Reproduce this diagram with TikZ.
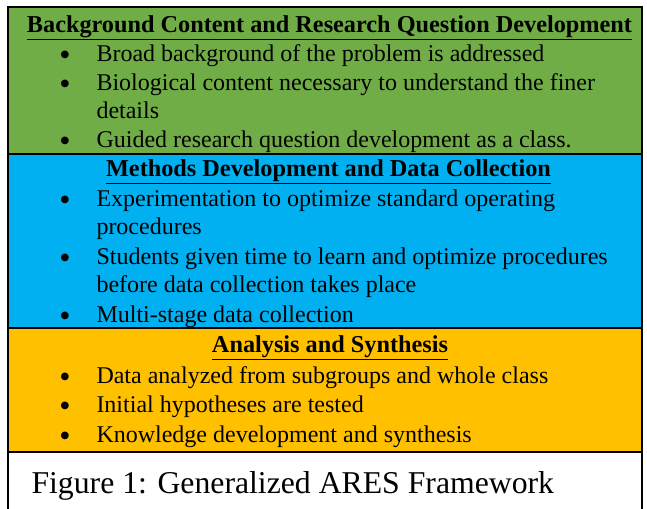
\documentclass[tikz,border=0pt]{standalone}
\usepackage{fontspec}
\setmainfont{Liberation Serif}
\usepackage{tikz}
\definecolor{bandgreen}{RGB}{112, 173, 71}
\definecolor{bandblue}{RGB}{0, 176, 240}
\definecolor{bandorange}{RGB}{255, 192, 0}
\tikzset{every picture/.style={line width=0.75pt}}
\tikzset{
  bandtitle/.style={anchor=base, inner sep=0.75pt, font=\fontsize{18.2}{21}\selectfont\bfseries},
  bulletdot/.style={anchor=base, inner sep=0.75pt, font=\fontsize{24}{21}\selectfont},
  bullettext/.style={anchor=base west, inner sep=0.75pt, align=left, font=\fontsize{18}{21}\selectfont},
}

\begin{document}
\begin{tikzpicture}[x=0.75pt,y=0.75pt,yscale=-1,xscale=1]
\useasboundingbox (0,0) rectangle (647,508);

%Shape: Rectangle [green band]
\draw  [fill=bandgreen, line width=1pt] (8,7) -- (642,7) -- (642,154) -- (8,154) -- cycle ;
%Shape: Rectangle [blue band]
\draw  [fill=bandblue, line width=1pt] (8,154) -- (642,154) -- (642,328) -- (8,328) -- cycle ;
%Shape: Rectangle [orange band]
\draw  [fill=bandorange, line width=1pt] (8,328) -- (642,328) -- (642,452) -- (8,452) -- cycle ;
%Shape: Rectangle [caption box]
\draw  [fill=white, line width=1pt] (8,452) -- (642,452) -- (642,514) -- (8,514) -- cycle ;

% Text Node
\node (bgtitle) at (329.5,32) [bandtitle] {\underline{Background Content and Research Question Development}};
% Text Node
\node (bgdota) at (65,65) [bulletdot] {\textbullet};
\node (bgitema) at (95,61) [bullettext] {Broad background of the problem is addressed};
% Text Node (base is the last line)
\node (bgdotb) at (65,94) [bulletdot] {\textbullet};
\node (bgitemb) at (95,118) [bullettext] {Biological content necessary to understand the finer\\details};
% Text Node
\node (bgdotc) at (65,151) [bulletdot] {\textbullet};
\node (bgitemc) at (95,147) [bullettext] {Guided research question development as a class.};

% Text Node
\node (mdtitle) at (328.5,176) [bandtitle] {\underline{Methods Development and Data Collection}};
% Text Node
\node (mddota) at (65,210) [bulletdot] {\textbullet};
\node (mditema) at (95,234) [bullettext] {Experimentation to optimize standard operating\\procedures};
% Text Node
\node (mddotb) at (65,268) [bulletdot] {\textbullet};
\node (mditemb) at (95,292) [bullettext] {Students given time to learn and optimize procedures\\before data collection takes place};
% Text Node
\node (mddotc) at (65,326) [bulletdot] {\textbullet};
\node (mditemc) at (95,322) [bullettext] {Multi-stage data collection};

% Text Node
\node (astitle) at (330,352) [bandtitle] {\underline{Analysis and Synthesis}};
% Text Node
\node (asdota) at (65,387) [bulletdot] {\textbullet};
\node (asitema) at (95,383) [bullettext] {Data analyzed from subgroups and whole class};
% Text Node
\node (asdotb) at (65,416) [bulletdot] {\textbullet};
\node (asitemb) at (95,412) [bullettext] {Initial hypotheses are tested};
% Text Node
\node (asdotc) at (65,446) [bulletdot] {\textbullet};
\node (asitemc) at (95,442) [bullettext] {Knowledge development and synthesis};

% Text Node
\node (caption) at (30,493) [anchor=base west, inner sep=0.75pt, font=\fontsize{23.8}{28}\selectfont] {Figure 1: Generalized ARES Framework};

\end{tikzpicture}
\end{document}
